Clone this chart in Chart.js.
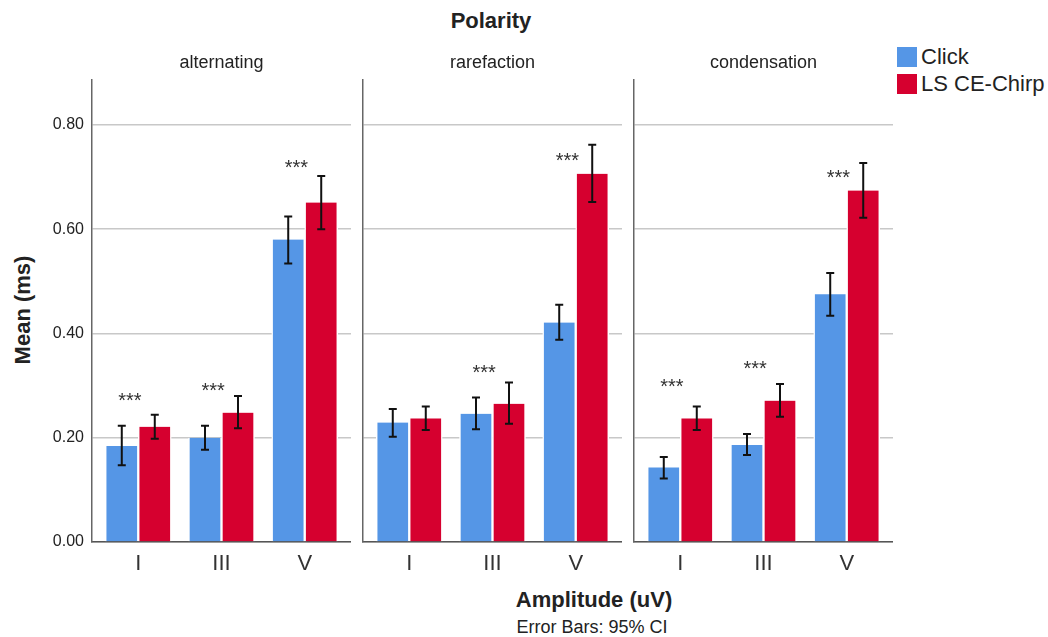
<!DOCTYPE html>
<html>
<head>
<meta charset="utf-8">
<title>Polarity</title>
<script src="https://cdn.jsdelivr.net/npm/chart.js@4/dist/chart.umd.min.js"></script>
<style>
  body { margin: 0; background: #fff; }
  #wrap { position: relative; width: 1048px; height: 637px; overflow: hidden;
          font-family: "Liberation Sans", Arial, sans-serif; color: #222; }
  canvas { position: absolute; top: 40px; }
  .txt { position: absolute; white-space: nowrap; transform: translate(-50%, -50%); }
  .key { position: absolute; width: 20px; height: 20px; }
  .keytxt { position: absolute; font-size: 22px; line-height: 22px; white-space: nowrap; }
</style>
</head>
<body>
<div id="wrap">
  <div class="txt" style="left:491px;top:21px;font-size:22px;font-weight:bold;">Polarity</div>
  <div class="txt" style="left:23px;top:310px;font-size:22px;font-weight:bold;transform:translate(-50%,-50%) rotate(-90deg);">Mean (ms)</div>
  <div class="txt" style="left:594px;top:600px;font-size:22px;font-weight:bold;">Amplitude (uV)</div>
  <div class="txt" style="left:592px;top:627px;font-size:18px;">Error Bars: 95% CI</div>

  <div class="key" style="left:897px;top:47px;background:#5596E6;"></div>
  <div class="keytxt" style="left:921px;top:46px;">Click</div>
  <div class="key" style="left:897px;top:74px;background:#D6002F;"></div>
  <div class="keytxt" style="left:921px;top:73px;">LS CE-Chirp</div>

  <canvas id="p0" width="351" height="542" style="left:0px"></canvas>
  <canvas id="p1" width="351" height="542" style="left:271px"></canvas>
  <canvas id="p2" width="351" height="542" style="left:542px"></canvas>
</div>
<script>
// data
const polarities = ['alternating', 'rarefaction', 'condensation'];
const categories = ['I', 'III', 'V'];
const yTicks = [0, 0.2, 0.4, 0.6, 0.8];

const clickMean = [[0.184, 0.200, 0.580], [0.229, 0.246, 0.421], [0.143, 0.186, 0.475]];
const clickLow  = [[0.147, 0.177, 0.534], [0.202, 0.216, 0.388], [0.122, 0.167, 0.434]];
const clickHigh = [[0.223, 0.223, 0.624], [0.255, 0.277, 0.455], [0.163, 0.207, 0.516]];

const chirpMean = [[0.221, 0.248, 0.651], [0.237, 0.265, 0.706], [0.237, 0.271, 0.674]];
const chirpLow  = [[0.198, 0.218, 0.600], [0.215, 0.227, 0.652], [0.215, 0.240, 0.622]];
const chirpHigh = [[0.244, 0.280, 0.702], [0.260, 0.306, 0.762], [0.260, 0.303, 0.727]];

// height (in ms) where the "***" marker sits, null = not significant
const starLevel = [[0.274, 0.294, 0.722], [null, 0.328, 0.735], [0.301, 0.336, 0.701]];

const BLUE = '#5596E6';
const RED = '#D6002F';

const errorBars = {
  id: 'errorBars',
  afterDatasetsDraw(chart, args, opts) {
    const ctx = chart.ctx;
    const y = chart.scales.y;
    ctx.save();
    ctx.strokeStyle = '#111';
    ctx.lineWidth = 2;
    chart.data.datasets.forEach((ds, di) => {
      const meta = chart.getDatasetMeta(di);
      meta.data.forEach((bar, i) => {
        const top = y.getPixelForValue(ds.errHigh[i]);
        const bot = y.getPixelForValue(ds.errLow[i]);
        ctx.beginPath();
        ctx.moveTo(bar.x, top); ctx.lineTo(bar.x, bot);
        ctx.moveTo(bar.x - 4, top); ctx.lineTo(bar.x + 4, top);
        ctx.moveTo(bar.x - 4, bot); ctx.lineTo(bar.x + 4, bot);
        ctx.stroke();
      });
    });
    ctx.restore();
  }
};

const stars = {
  id: 'stars',
  afterDatasetsDraw(chart, args, opts) {
    const ctx = chart.ctx;
    const xs = chart.scales.x, ys = chart.scales.y;
    ctx.save();
    ctx.fillStyle = '#333';
    ctx.font = '20px "Liberation Sans", Arial, sans-serif';
    ctx.textAlign = 'center';
    ctx.textBaseline = 'alphabetic';
    opts.levels.forEach((lv, i) => {
      if (lv == null) return;
      ctx.fillText('***', xs.getPixelForValue(i - 0.1), ys.getPixelForValue(lv) + 8);
    });
    ctx.restore();
  }
};

function makePanel(p) {
  const first = p === 0;
  new Chart(document.getElementById('p' + p), {
    type: 'bar',
    data: {
      datasets: [
        {
          label: 'Click',
          data: categories.map((c, i) => ({ x: i, y: clickMean[p][i] })),
          errLow: clickLow[p], errHigh: clickHigh[p],
          backgroundColor: BLUE
        },
        {
          label: 'LS CE-Chirp',
          data: categories.map((c, i) => ({ x: i, y: chirpMean[p][i] })),
          errLow: chirpLow[p], errHigh: chirpHigh[p],
          backgroundColor: RED
        }
      ]
    },
    options: {
      responsive: false,
      animation: false,
      events: [],
      layout: { padding: 0 },
      datasets: {
        bar: {
          barThickness: 33,
          borderColor: '#ffffff',
          borderWidth: { left: 1.5, right: 1.5, top: 0, bottom: 0 },
          borderSkipped: false
        }
      },
      scales: {
        x: {
          type: 'linear',
          offset: false,
          min: -0.556,
          max: 2.556,
          afterBuildTicks: (axis) => { axis.ticks = categories.map((c, i) => ({ value: i })); },
          afterFit: (scale) => { scale.height = 40; },
          grid: { display: false, drawTicks: false },
          border: { display: true, color: '#555', width: 1.5 },
          ticks: {
            autoSkip: false, maxRotation: 0, padding: 9,
            color: '#333',
            font: { size: 22, family: '"Liberation Sans", Arial, sans-serif' },
            callback: (v) => categories[v]
          }
        },
        y: {
          min: 0,
          max: 0.886,
          afterBuildTicks: (axis) => { axis.ticks = yTicks.map(v => ({ value: v })); },
          afterFit: (scale) => { scale.width = 92; },
          grid: { color: '#c8c8c8', lineWidth: 1.5, drawTicks: false },
          border: { display: true, color: '#666', width: 1.5 },
          ticks: {
            display: first,
            padding: 8,
            color: '#222',
            font: { size: 16, family: '"Liberation Sans", Arial, sans-serif' },
            callback: (v) => v.toFixed(2)
          }
        }
      },
      plugins: {
        legend: { display: false },
        tooltip: { enabled: false },
        title: {
          display: true,
          text: polarities[p],
          fullSize: false,
          color: '#222',
          font: { size: 18, weight: 'normal', family: '"Liberation Sans", Arial, sans-serif', lineHeight: 1.2 },
          padding: { top: 12, bottom: 6.4 }
        },
        stars: { levels: starLevel[p] }
      }
    },
    plugins: [errorBars, stars]
  });
}

polarities.forEach((name, p) => makePanel(p));
</script>
</body>
</html>
